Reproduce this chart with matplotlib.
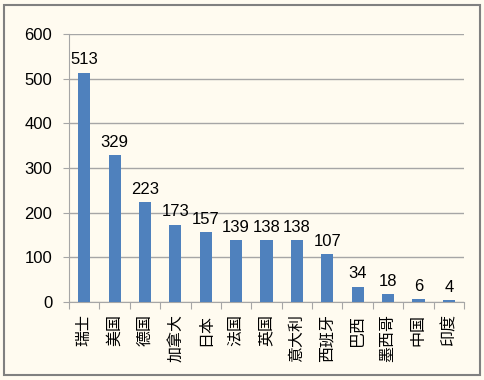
import matplotlib
matplotlib.use("Agg")
import matplotlib.pyplot as plt
from matplotlib.patches import Rectangle

countries = ["瑞士", "美国", "德国", "加拿大", "日本", "法国", "英国", "意大利", "西班牙", "巴西", "墨西哥", "中国", "印度"]
values = [513, 329, 223, 173, 157, 139, 138, 138, 107, 34, 18, 6, 4]
yticks = [0, 100, 200, 300, 400, 500, 600]

bg = "#FFFBF0"
fig = plt.figure(figsize=(4.84, 3.8), dpi=100, facecolor=bg)
fig.patches.append(Rectangle((0.008, 0.012), 0.984, 0.976, transform=fig.transFigure,
                             fill=False, edgecolor="#808080", linewidth=1.5))
ax = fig.add_axes([69/484, 1-302/380, (464-69)/484, (302-34)/380])
ax.set_facecolor(bg)
x = range(len(countries))
ax.bar(x, values, width=0.4, color="#4F81BD", zorder=3)
for i, v in zip(x, values):
    ax.text(i, v + 12, str(v), ha="center", va="bottom", fontsize=12,
            family="Liberation Sans", zorder=4)
ax.set_ylim(0, 600)
ax.set_xlim(-0.5, len(countries) - 0.5)
ax.set_yticks(yticks)
ax.set_yticklabels([str(t) for t in yticks], family="Liberation Sans", fontsize=12)
ax.yaxis.grid(True, color="#A6A6A6", linewidth=1, zorder=0)
ax.set_xticks([i - 0.5 for i in range(len(countries) + 1)], minor=False)
ax.set_xticklabels([""] * (len(countries) + 1))
ax.set_xticks(list(x), minor=True)
ax.set_xticklabels(countries, minor=True, rotation=90, family=["Noto Sans CJK SC", "DejaVu Sans"],
                   fontsize=11.5)
ax.tick_params(axis="x", which="minor", length=0, pad=9)
ax.tick_params(axis="x", which="major", length=5, color="#A6A6A6", direction="out")
ax.tick_params(axis="y", length=4, color="#A6A6A6", pad=8)
for s in ["top", "right"]:
    ax.spines[s].set_visible(False)
ax.spines["left"].set_color("#A6A6A6")
ax.spines["bottom"].set_color("#A6A6A6")
fig.savefig("out.png", dpi=100, facecolor=bg)
